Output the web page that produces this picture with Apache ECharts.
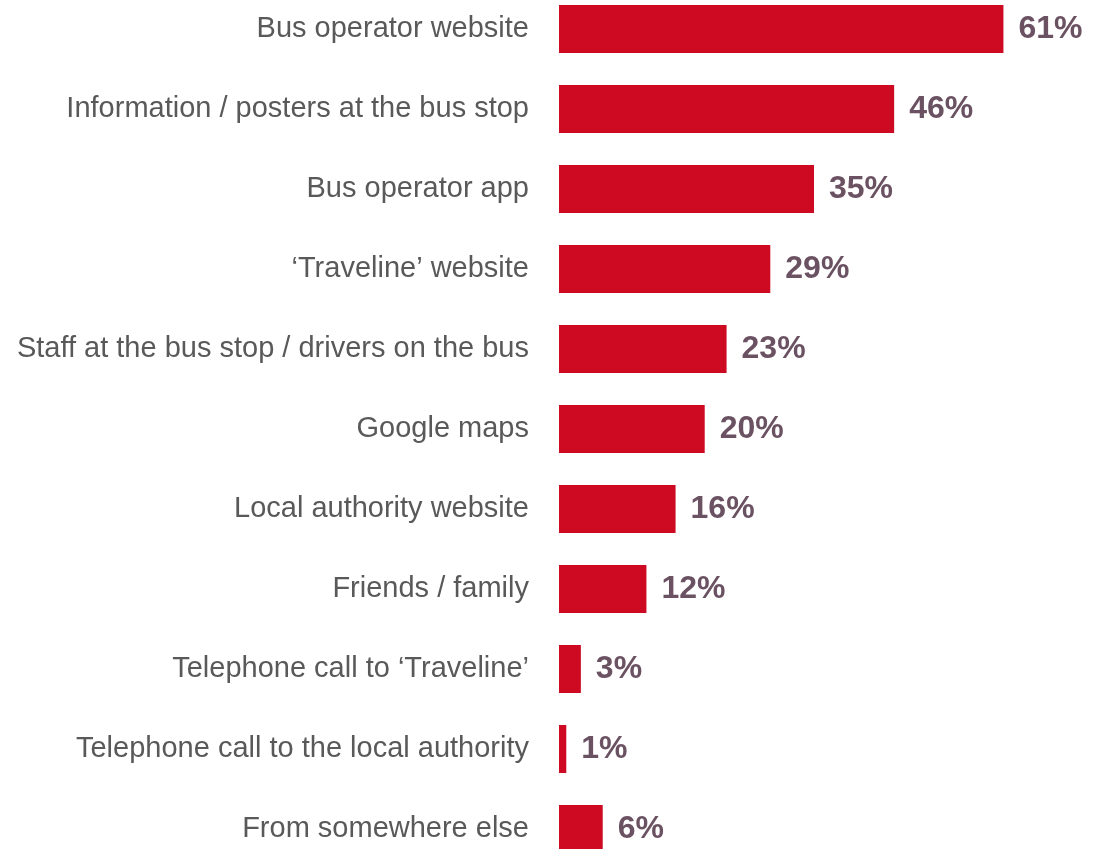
<!DOCTYPE html>
<html>
<head>
<meta charset="utf-8">
<script src="https://cdn.jsdelivr.net/npm/echarts@6/dist/echarts.min.js"></script>
<style>
html,body{margin:0;padding:0;background:#fff;overflow:hidden;width:1097px;height:849px;}
#chart{width:1097px;height:880px;margin-top:-11px;}
</style>
</head>
<body>
<div id="chart"></div>
<script>
const categories = [
  "Bus operator website",
  "Information / posters at the bus stop",
  "Bus operator app",
  "\u2018Traveline\u2019 website",
  "Staff at the bus stop / drivers on the bus",
  "Google maps",
  "Local authority website",
  "Friends / family",
  "Telephone call to \u2018Traveline\u2019",
  "Telephone call to the local authority",
  "From somewhere else"
];
const values = [61, 46, 35, 29, 23, 20, 16, 12, 3, 1, 6];

const chart = echarts.init(document.getElementById('chart'), null, {renderer: 'canvas'});
chart.setOption({
  animation: false,
  backgroundColor: '#ffffff',
  grid: {left: 559, right: 28, top: 0, bottom: 0, containLabel: false},
  xAxis: {
    type: 'value', min: 0, max: 70, show: false
  },
  yAxis: {
    type: 'category', data: categories, inverse: true,
    axisLine: {show: false}, axisTick: {show: false}, splitLine: {show: false},
    axisLabel: {
      margin: 30, color: '#595959', fontSize: 29,
      fontFamily: 'Liberation Sans, Arial, sans-serif'
    }
  },
  series: [{
    type: 'bar', data: values, barCategoryGap: '40%',
    itemStyle: {color: '#CD0A22'},
    label: {
      show: true, position: 'right', distance: 15,
      formatter: '{c}%', color: '#6B5262', fontSize: 32, fontWeight: 'bold',
      fontFamily: 'Liberation Sans, Arial, sans-serif'
    }
  }]
});
</script>
</body>
</html>
